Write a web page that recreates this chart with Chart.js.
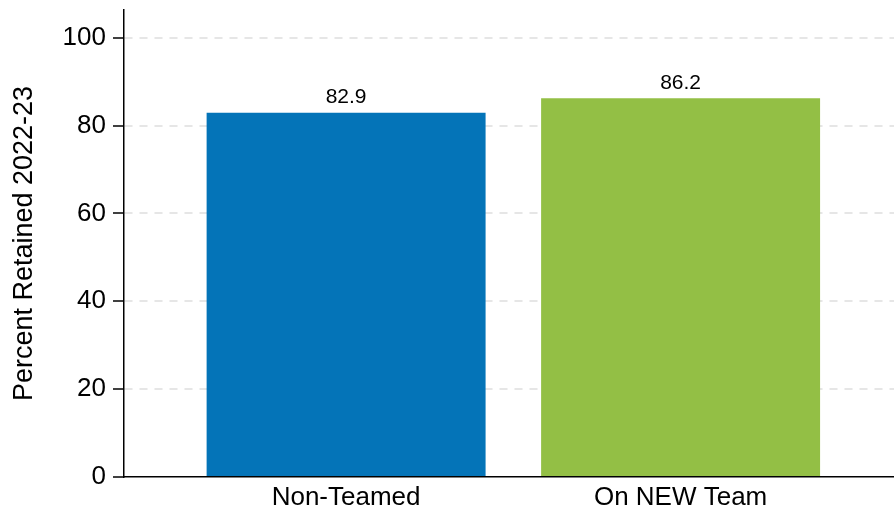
<!DOCTYPE html>
<html>
<head>
<meta charset="utf-8">
<script src="https://cdn.jsdelivr.net/npm/chart.js@4/dist/chart.umd.min.js"></script>
<style>
  html, body { margin: 0; padding: 0; background: #fff; }
  #wrap { width: 894px; height: 512px; position: relative; }
</style>
</head>
<body>
<div id="wrap"><canvas id="chart"></canvas></div>
<script>
// Retention by teaming status
const categories = ['Non-Teamed', 'On NEW Team'];
const retained = [82.9, 86.2];
const positions = [1, 2];
const barColors = ['#0474B8', '#93BF45'];
const yTicks = [0, 20, 40, 60, 80, 100];

const FONT = '"Liberation Sans", Arial, Helvetica, sans-serif';

// Value printed above each bar
const valueLabels = {
  id: 'valueLabels',
  afterDatasetsDraw(chart) {
    const ctx = chart.ctx;
    const meta = chart.getDatasetMeta(0);
    ctx.save();
    ctx.font = '21px ' + FONT;
    ctx.fillStyle = '#000';
    ctx.textAlign = 'center';
    ctx.textBaseline = 'alphabetic';
    meta.data.forEach((bar, i) => {
      ctx.fillText(retained[i].toFixed(1), bar.x, bar.y - 9.5);
    });
    ctx.restore();
  }
};

new Chart(document.getElementById('chart'), {
  type: 'bar',
  data: {
    datasets: [{
      data: positions.map((p, i) => ({ x: p, y: retained[i] })),
      backgroundColor: barColors,
      borderWidth: 0,
      categoryPercentage: 1,
      barPercentage: 0.834
    }]
  },
  options: {
    responsive: true,
    maintainAspectRatio: false,
    animation: false,
    devicePixelRatio: 1,
    layout: { padding: { top: 10, right: 0, bottom: 0, left: 0 } },
    plugins: {
      legend: { display: false },
      tooltip: { enabled: false }
    },
    scales: {
      x: {
        type: 'linear',
        min: 0.336,
        max: 2.638,
        offset: false,
        bounds: 'data',
        afterFit(scale) {
          scale.height = 35;
          scale.paddingLeft = 0;
          scale.paddingRight = 0;
        },
        afterBuildTicks(scale) { scale.ticks = positions.map(v => ({ value: v })); },
        ticks: {
          font: { size: 26, family: FONT },
          color: '#000',
          padding: 5,
          maxRotation: 0,
          autoSkip: false,
          callback: (v) => {
            const i = positions.indexOf(v);
            return i >= 0 ? categories[i] : '';
          }
        },
        grid: { display: false, drawTicks: false },
        border: { display: true, color: '#000', width: 1.5, z: 1 }
      },
      y: {
        min: 0,
        max: 106.3,
        bounds: 'data',
        afterFit(scale) {
          scale.width = 124;
          scale.paddingTop = 0;
          scale.paddingBottom = 0;
        },
        afterBuildTicks(scale) { scale.ticks = yTicks.map(v => ({ value: v })); },
        ticks: {
          font: { size: 26, family: FONT },
          color: '#000',
          padding: 7
        },
        grid: {
          color: (c) => (c.tick && c.tick.value === 0) ? 'rgba(0,0,0,0)' : '#e6e6e6',
          lineWidth: 2,
          tickColor: '#000',
          tickWidth: 1.5,
          tickLength: 11,
          tickBorderDash: []
        },
        border: { display: true, color: '#000', width: 1.5, dash: [8, 7] },
        title: {
          display: true,
          text: 'Percent Retained 2022-23',
          font: { size: 27, family: FONT },
          color: '#000',
          padding: { top: 8, bottom: 0 }
        }
      }
    }
  },
  plugins: [valueLabels]
});
</script>
</body>
</html>
